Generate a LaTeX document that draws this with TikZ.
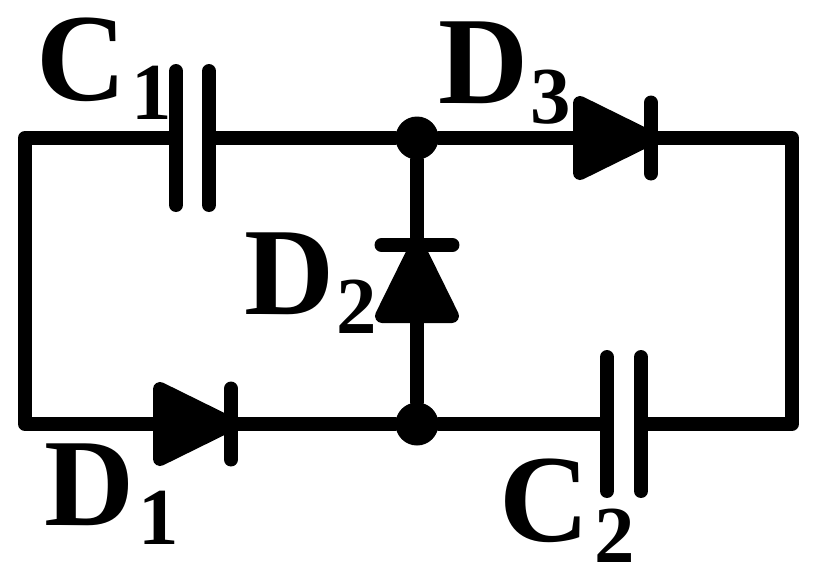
\documentclass[tikz,border=0pt]{standalone}
\usepackage{fontspec}
\setmainfont{Liberation Serif}
\tikzset{
  wire/.style={color=black, line width=3.98pt, line cap=round, line join=round},
  lab/.style={inner sep=0pt, anchor=base west, font=\fontsize{35.5}{36}\selectfont\bfseries},
  sublab/.style={inner sep=0pt, anchor=base west, font=\fontsize{23}{23}\selectfont\bfseries},
  junction/.style={circle, fill=black, inner sep=0pt, minimum size=0.43cm}
}

\begin{document}
\begin{tikzpicture}
  \useasboundingbox (0,0) rectangle (8.13,5.76);
  % corners and terminals
  \coordinate (tl) at (0.25, 4.38);
  \coordinate (tr) at (7.92, 4.38);
  \coordinate (bl) at (0.25, 1.52);
  \coordinate (br) at (7.92, 1.52);
  \node[junction] (top) at (4.17, 4.38) {};
  \node[junction] (bot) at (4.17, 1.52) {};
  \coordinate (c1a) at (1.76, 4.38);
  \coordinate (c1b) at (2.09, 4.38);
  \coordinate (c2a) at (6.07, 1.52);
  \coordinate (c2b) at (6.41, 1.52);
  \coordinate (d1a) at (1.60, 1.52);
  \coordinate (d1b) at (2.31, 1.52);
  \coordinate (d3a) at (5.80, 4.38);
  \coordinate (d3b) at (6.51, 4.38);
  \coordinate (d2a) at (4.17, 2.60);
  \coordinate (d2b) at (4.17, 3.31);

  % wires
  \draw[wire] (c1a) -- (tl) -- (bl) -- (d1a);
  \draw[wire] (d1b) -- (bot) -- (c2a);
  \draw[wire] (c2b) -- (br) -- (tr) -- (d3b);
  \draw[wire] (d3a) -- (top) -- (c1b);
  \draw[wire] (top) -- (d2b);
  \draw[wire] (d2a) -- (bot);

  % capacitor plates
  \foreach \p in {c1a,c1b,c2a,c2b}
  {
  \draw[wire] ([yshift=0.67cm]\p) -- ([yshift=-0.67cm]\p);
  }

  % diodes
  \foreach \a/\b in {d1a/d1b,d3a/d3b}
  {
  \draw[wire, fill=black] ([yshift=0.35cm]\a) -- ([yshift=-0.35cm]\a) -- (\b) -- cycle;
  \draw[wire] ([yshift=0.355cm]\b) -- ([yshift=-0.355cm]\b);
  }
  \draw[wire, fill=black] ([xshift=-0.35cm]d2a) -- ([xshift=0.35cm]d2a) -- (d2b) -- cycle;
  \draw[wire] ([xshift=-0.355cm]d2b) -- ([xshift=0.355cm]d2b);

  % labels
  \node[lab] (c1) at (0.36, 4.76) {C};
  \node[sublab] (c1s) at (1.31, 4.57) {1};
  \node[lab] (d3) at (4.38, 4.73) {D};
  \node[sublab] (d3s) at (5.30, 4.53) {3};
  \node[lab] (d2) at (2.44, 2.62) {D};
  \node[sublab] (d2s) at (3.355, 2.43) {2};
  \node[lab] (d1) at (0.44, 0.51) {D};
  \node[sublab] (d1s) at (1.38, 0.32) {1};
  \node[lab] (c2) at (4.99, 0.345) {C};
  \node[sublab] (c2s) at (5.935, 0.14) {2};
\end{tikzpicture}
\end{document}
